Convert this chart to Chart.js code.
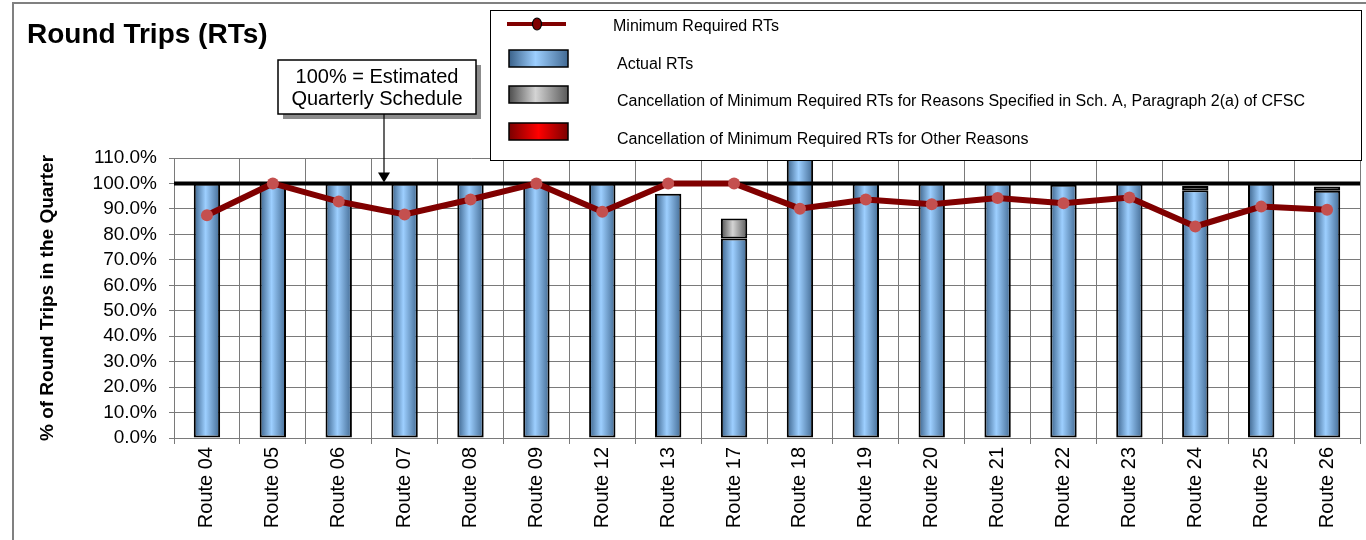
<!DOCTYPE html>
<html>
<head>
<meta charset="utf-8">
<title>Round Trips (RTs)</title>
<script src="https://cdn.jsdelivr.net/npm/chart.js@4.4.0/dist/chart.umd.min.js"></script>
<style>
  html, body { margin: 0; padding: 0; background: #fff; }
  #wrap { width: 1366px; height: 540px; }
</style>
</head>
<body>
<div id="wrap"><canvas id="rtChart" width="1366" height="540"></canvas></div>
<script>
// values (percent of estimated quarterly schedule)
const routes = ['Route 04', 'Route 05', 'Route 06', 'Route 07', 'Route 08', 'Route 09',
                'Route 12', 'Route 13', 'Route 17', 'Route 18', 'Route 19', 'Route 20',
                'Route 21', 'Route 22', 'Route 23', 'Route 24', 'Route 25', 'Route 26'];
const minimumRequired = [87.5, 100, 92.9, 87.8, 93.7, 100, 88.9, 100, 100,
                         90.1, 93.7, 91.8, 94.3, 92.2, 94.5, 83.1, 90.9, 89.7];
const actualRTs = [100, 100, 100, 100, 100, 100, 100, 96, 78.4,
                   115, 100, 100, 100, 99.5, 100, 97.3, 100, 97.1];
const cancelSchA = [0, 0, 0, 0, 0, 0, 0, 0, 7.8,
                    0, 0, 0, 0, 0, 0, 1.7, 0, 1.7];
const cancelOther = [0, 0, 0, 0, 0, 0, 0, 0, 0,
                     0, 0, 0, 0, 0, 0, 0, 0, 0];
const yMin = 0, yMax = 110, yStep = 10;
const scheduleLine = 100;

const legendLabels = [
  'Minimum Required RTs',
  'Actual RTs',
  'Cancellation of Minimum Required RTs for Reasons Specified in Sch. A, Paragraph 2(a) of CFSC',
  'Cancellation of Minimum Required RTs for Other Reasons'
];

const FONT = "Arial, 'Liberation Sans', sans-serif";
const BAR_PCT = 0.4;

const blueStops = [[0, '#3a6189'], [0.45, '#9dcfff'], [1, '#426a93']];
const greyStops = [[0, '#4d4d4d'], [0.45, '#d4d4d4'], [1, '#5a5a5a']];
const redStops = [[0, '#7a0000'], [0.5, '#ff0000'], [1, '#7a0000']];

// horizontal shading across each bar, like the Excel fill
function barFill(stops) {
  return (ctx) => {
    const chart = ctx.chart;
    const xs = chart.scales && chart.scales.x;
    if (!xs || ctx.dataIndex === undefined) return stops[1][1];
    const cx = xs.getPixelForValue(ctx.dataIndex);
    const w = (xs.width / routes.length) * BAR_PCT;
    if (!isFinite(cx) || !isFinite(w) || w <= 0) return stops[1][1];
    const g = chart.ctx.createLinearGradient(cx - w / 2, 0, cx + w / 2, 0);
    stops.forEach(([o, c]) => g.addColorStop(o, c));
    return g;
  };
}

function iconFill(ctx, x, w, stops) {
  const g = ctx.createLinearGradient(x, 0, x + w, 0);
  stops.forEach(([o, c]) => g.addColorStop(o, c));
  return g;
}

const decorations = {
  id: 'decorations',
  beforeDatasetDraw(chart, args) {
    // thick 100% schedule line sits between the bars and the red line
    if (args.meta.type !== 'line') return;
    const { ctx, chartArea } = chart;
    const y = chart.scales.y.getPixelForValue(scheduleLine);
    ctx.save();
    ctx.strokeStyle = '#000';
    ctx.lineWidth = 4;
    ctx.beginPath();
    ctx.moveTo(chartArea.left, y);
    ctx.lineTo(chartArea.right, y);
    ctx.stroke();
    ctx.restore();
  },
  afterDraw(chart) {
    const { ctx } = chart;
    ctx.save();

    // outer frame
    ctx.strokeStyle = '#808080';
    ctx.lineWidth = 2;
    ctx.strokeRect(13, 3, 1400, 600);

    // title
    ctx.fillStyle = '#000';
    ctx.font = 'bold 28px ' + FONT;
    ctx.textAlign = 'left';
    ctx.textBaseline = 'alphabetic';
    ctx.fillText('Round Trips (RTs)', 27, 43);

    // legend box
    ctx.fillStyle = '#fff';
    ctx.fillRect(490, 10, 872, 150);
    ctx.strokeStyle = '#000';
    ctx.lineWidth = 1;
    ctx.strokeRect(490.5, 10.5, 871, 150);

    // legend: line + marker
    ctx.strokeStyle = '#800000';
    ctx.lineWidth = 4;
    ctx.beginPath();
    ctx.moveTo(507, 24);
    ctx.lineTo(566, 24);
    ctx.stroke();
    ctx.beginPath();
    ctx.ellipse(537, 24, 4.5, 6, 0, 0, Math.PI * 2);
    ctx.fillStyle = '#800000';
    ctx.fill();
    ctx.lineWidth = 1.2;
    ctx.strokeStyle = '#000';
    ctx.stroke();

    // legend: bar icons
    const icons = [[50, blueStops], [86, greyStops], [123, redStops]];
    icons.forEach(([y, stops]) => {
      ctx.fillStyle = iconFill(ctx, 509, 59, stops);
      ctx.fillRect(509, y, 59, 17);
      ctx.strokeStyle = '#000';
      ctx.lineWidth = 1.5;
      ctx.strokeRect(509, y, 59, 17);
    });

    ctx.fillStyle = '#000';
    ctx.font = '16px ' + FONT;
    ctx.textBaseline = 'middle';
    ctx.fillText(legendLabels[0], 613, 27);
    ctx.fillText(legendLabels[1], 617, 65);
    ctx.fillText(legendLabels[2], 617, 102);
    ctx.fillText(legendLabels[3], 617, 140);

    // annotation box with shadow
    ctx.fillStyle = '#8c8c8c';
    ctx.fillRect(283, 65, 198, 54);
    ctx.fillStyle = '#fff';
    ctx.fillRect(278, 60, 198, 54);
    ctx.strokeStyle = '#000';
    ctx.lineWidth = 1.5;
    ctx.strokeRect(278, 60, 198, 54);
    ctx.fillStyle = '#000';
    ctx.font = '20px ' + FONT;
    ctx.textAlign = 'center';
    ctx.fillText('100% = Estimated', 377, 77);
    ctx.fillText('Quarterly Schedule', 377, 99);

    // arrow down to the 100% line
    const yTip = chart.scales.y.getPixelForValue(scheduleLine) - 1;
    ctx.strokeStyle = '#000';
    ctx.lineWidth = 1.2;
    ctx.beginPath();
    ctx.moveTo(384, 114);
    ctx.lineTo(384, yTip - 8);
    ctx.stroke();
    ctx.beginPath();
    ctx.moveTo(384, yTip);
    ctx.lineTo(378, yTip - 10);
    ctx.lineTo(390, yTip - 10);
    ctx.closePath();
    ctx.fill();

    ctx.restore();
  }
};

const barCommon = {
  type: 'bar',
  stack: 'rts',
  order: 1,
  borderColor: '#000',
  borderWidth: (c) => (c.raw > 0 ? 2 : 0),
  borderSkipped: false,
  barPercentage: BAR_PCT,
  categoryPercentage: 1.0
};

new Chart(document.getElementById('rtChart'), {
  data: {
    labels: routes,
    datasets: [
      {
        type: 'line',
        label: legendLabels[0],
        data: minimumRequired,
        stack: 'min',
        order: 0,
        borderColor: '#800000',
        borderWidth: 6,
        pointRadius: 6,
        pointBackgroundColor: '#c4504f',
        pointBorderWidth: 0,
        tension: 0
      },
      Object.assign({}, barCommon, { label: legendLabels[1], data: actualRTs, backgroundColor: barFill(blueStops) }),
      Object.assign({}, barCommon, { label: legendLabels[2], data: cancelSchA, backgroundColor: barFill(greyStops) }),
      Object.assign({}, barCommon, { label: legendLabels[3], data: cancelOther, backgroundColor: barFill(redStops) })
    ]
  },
  options: {
    responsive: false,
    animation: false,
    devicePixelRatio: 1,
    layout: { padding: { top: 158, right: 4, left: 0, bottom: 0 } },
    plugins: {
      legend: { display: false },
      tooltip: { enabled: false }
    },
    scales: {
      x: {
        stacked: true,
        offset: true,
        grid: { offset: true, color: '#7a7a7a', lineWidth: 1, tickLength: 6 },
        border: { color: '#7a7a7a' },
        ticks: {
          autoSkip: false,
          maxRotation: 90,
          minRotation: 90,
          padding: 3,
          color: '#000',
          font: { family: FONT, size: 20 }
        },
        afterFit: (s) => { s.height = 102; }
      },
      y: {
        stacked: true,
        min: yMin,
        max: yMax,
        grid: { color: '#7a7a7a', lineWidth: 1, tickLength: 5 },
        border: { color: '#7a7a7a' },
        ticks: {
          autoSkip: false,
          stepSize: yStep,
          padding: 12,
          color: '#000',
          font: { family: FONT, size: 19 },
          callback: (v) => v.toFixed(1) + '%'
        },
        title: {
          display: true,
          text: '% of Round Trips in the Quarter',
          color: '#000',
          font: { family: FONT, size: 19, weight: 'bold' },
          padding: { top: 36, bottom: 0 }
        },
        afterFit: (s) => { s.width = 174; }
      }
    }
  },
  plugins: [decorations]
});
</script>
</body>
</html>
